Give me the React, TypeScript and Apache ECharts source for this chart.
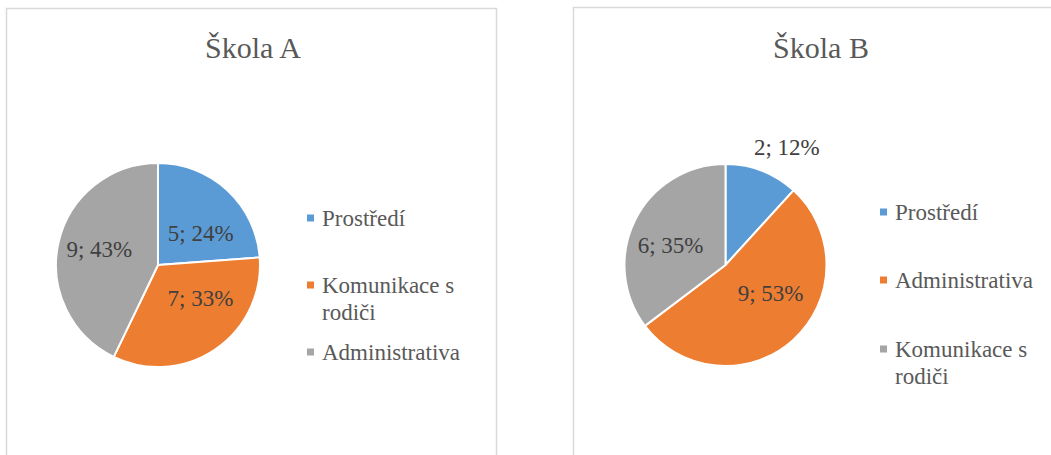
import React, { useEffect, useRef } from "react";
import * as echarts from "echarts";

const titleA = "Škola A";
const titleB = "Škola B";
const namesA = ["Prostředí", "Komunikace s rodiči", "Administrativa"];
const valuesA = [5, 7, 9];
const namesB = ["Prostředí", "Administrativa", "Komunikace s rodiči"];
const valuesB = [2, 9, 6];
const colorsA = ["#5B9BD5", "#ED7D31", "#A5A5A5"];
const colorsB = ["#5B9BD5", "#ED7D31", "#A5A5A5"];

// label nudges (px) relative to ECharts' inside position
const offsetsA = [[6, 8], [12, -11], [-6, -3]];
const offsetsB = [[42, -68], [9, -11], [-7, 4]];
// legend item vertical centers (first line)
const legendYA = [218, 285, 352];
const legendYB = [212, 280, 349];

const FONT = "Liberation Serif, Times New Roman, serif";
const LINE_H = 27;

export default function App() {
  const ref = useRef<HTMLDivElement>(null);
  useEffect(() => {
    if (!ref.current) return;
    const chart = echarts.init(ref.current, null, { renderer: "svg" });

    const wrap = (n: string) => (n === "Komunikace s rodiči" ? "Komunikace s\nrodiči" : n);

    const mkData = (names: string[], vals: number[], colors: string[], offs: number[][]) =>
      names.map((n, i) => ({
        name: n,
        value: vals[i],
        itemStyle: { color: colors[i] },
        label: { offset: offs[i] },
      }));

    const mkLegends = (names: string[], colors: string[], ys: number[], x: number) =>
      names.map((n, i) => {
        const two = wrap(n).includes("\n");
        return {
          data: [
            {
              name: n,
              icon: two ? "path://M0,0L7,0L7,7L0,7Z M0,34L7,34" : "rect",
              itemStyle: { color: colors[i], borderWidth: 0 },
            },
          ],
          orient: "vertical",
          left: x,
          top: ys[i] - LINE_H / 2,
          itemWidth: 7,
          itemHeight: two ? 34 : 7,
          itemStyle: { borderWidth: 0 },
          formatter: wrap,
          selectedMode: false,
          padding: 0,
          textStyle: {
            fontFamily: FONT,
            fontSize: 23,
            color: "#595959",
            lineHeight: LINE_H,
            padding: [0, 0, 0, 3],
          },
        };
      });

    const labelCommon = {
      show: true,
      position: "inside",
      fontFamily: FONT,
      fontSize: 23,
      color: "#404040",
      formatter: (p: any) => `${p.value}; ${Math.round(p.percent)}%`,
    };

    chart.setOption({
      animation: false,
      backgroundColor: "#ffffff",
      textStyle: { fontFamily: FONT },
      title: [
        {
          text: titleA,
          left: 248,
          top: 27,
          textAlign: "center",
          textStyle: { fontFamily: FONT, fontSize: 30, fontWeight: "normal", color: "#595959" },
        },
        {
          text: titleB,
          left: 816,
          top: 27,
          textAlign: "center",
          textStyle: { fontFamily: FONT, fontSize: 30, fontWeight: "normal", color: "#595959" },
        },
      ],
      legend: [
        ...mkLegends(namesA, colorsA, legendYA, 307),
        ...mkLegends(namesB, colorsB, legendYB, 880),
      ],
      graphic: [
        {
          type: "rect",
          shape: { x: 6.5, y: 8.5, width: 490, height: 460 },
          style: { fill: "none", stroke: "#D9D9D9", lineWidth: 1.5 },
          silent: true,
        },
        {
          type: "rect",
          shape: { x: 573.5, y: 7.5, width: 500, height: 460 },
          style: { fill: "none", stroke: "#D9D9D9", lineWidth: 1.5 },
          silent: true,
        },
      ],
      series: [
        {
          type: "pie",
          center: [158, 265],
          radius: [0, 102],
          startAngle: 90,
          clockwise: true,
          itemStyle: { borderColor: "#ffffff", borderWidth: 2 },
          label: labelCommon,
          labelLine: { show: false },
          emphasis: { disabled: true },
          data: mkData(namesA, valuesA, colorsA, offsetsA),
        },
        {
          type: "pie",
          center: [725.5, 265],
          radius: [0, 101],
          startAngle: 90,
          clockwise: true,
          itemStyle: { borderColor: "#ffffff", borderWidth: 2 },
          label: labelCommon,
          labelLine: { show: false },
          emphasis: { disabled: true },
          data: mkData(namesB, valuesB, colorsB, offsetsB),
        },
      ],
    });
    return () => chart.dispose();
  }, []);
  return (
    <div
      ref={ref}
      style={{ position: "fixed", left: 0, top: 0, width: 1051, height: 455 }}
    />
  );
}
